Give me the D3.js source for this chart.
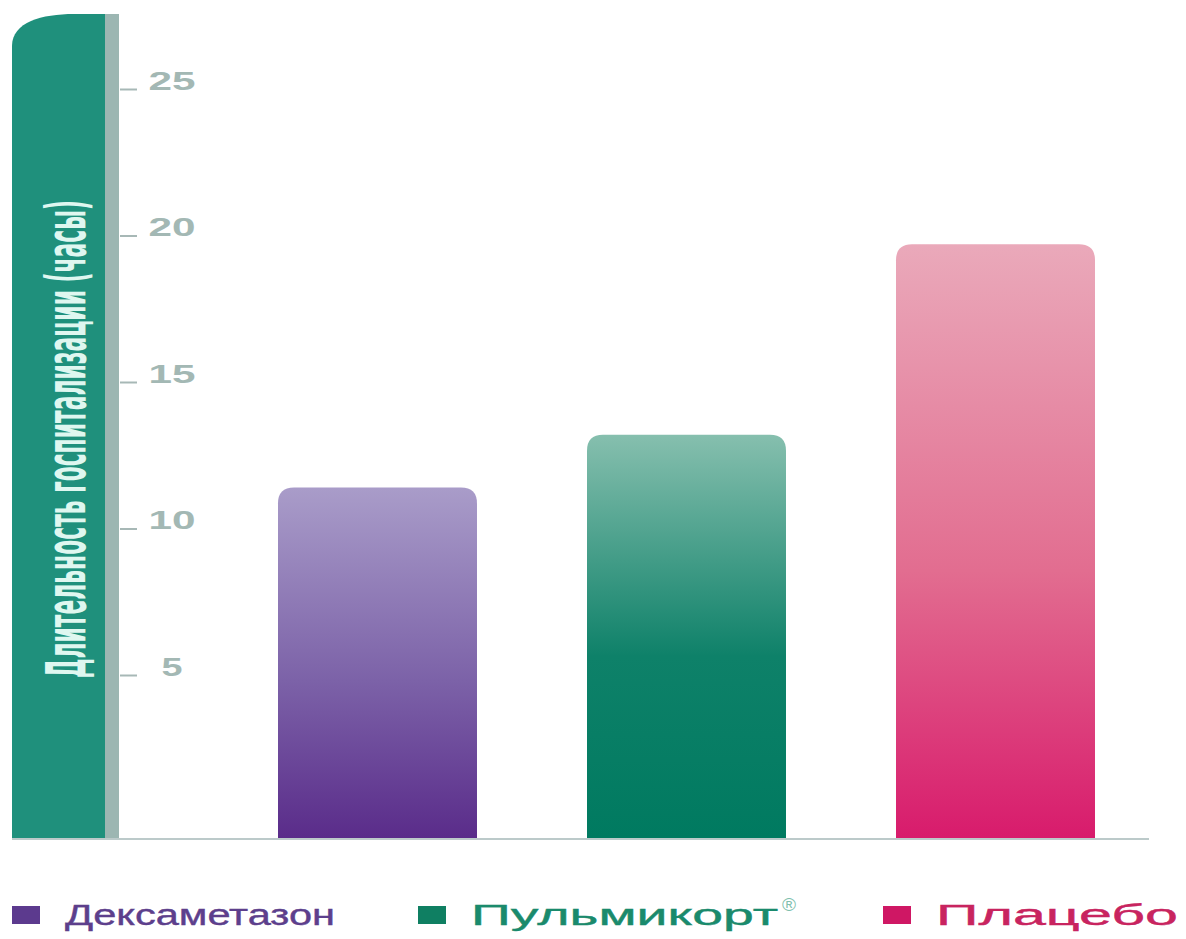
<!DOCTYPE html>
<html>
<head>
<meta charset="utf-8">
<script src="https://cdn.jsdelivr.net/npm/d3@7"></script>
<style>
  html, body { margin: 0; padding: 0; background: #ffffff; }
  svg { display: block; }
</style>
</head>
<body>
<svg id="chart" width="1186" height="939"></svg>
<script>
// ---- data ----
const categories = ["Дексаметазон", "Пульмикорт", "Плацебо"];
const values = [11.4, 13.2, 19.7];
const tickValues = [5, 10, 15, 20, 25];
const legendLabels = ["Дексаметазон", "Пульмикорт", "Плацебо"];
const legendSup = ["", "®", ""];
const yTitle = "Длительность госпитализации (часы)";

// ---- styles ----
const topColors = ["#a99cc9", "#86bfae", "#eaa9ba"];
const midColors = ["#7c62a8", "#0e8169", "#e26d90"];
const midOffsets = ["55%", "55%", "55%"];
const bottomColors = ["#5a2c8a", "#007a60", "#d81b6c"];
const legendSquare = ["#5c3a8e", "#0f7f62", "#cf1764"];
const legendText = ["#5d3f8c", "#1a8a6c", "#c8245f"];
const legendLen = [270, 307, 242];

const svg = d3.select("#chart");

const baseY = 838;
const y = d3.scaleLinear().domain([5, 25]).range([675, 89]);
const x = d3.scaleBand().domain(categories).range([223, 1150]).paddingInner(0.356).paddingOuter(0.178);

// gradients
const defs = svg.append("defs");
categories.forEach((c, i) => {
  const g = defs.append("linearGradient")
    .attr("id", "grad" + i).attr("x1", 0).attr("y1", 0).attr("x2", 0).attr("y2", 1);
  g.append("stop").attr("offset", "0%").attr("stop-color", topColors[i]);
  g.append("stop").attr("offset", midOffsets[i]).attr("stop-color", midColors[i]);
  g.append("stop").attr("offset", "100%").attr("stop-color", bottomColors[i]);
});

// left band
const bandL = 12, bandR = 105, stripR = 119, bandTop = 14;
svg.append("path")
  .attr("d", `M${bandL},${baseY} L${bandL},${bandTop + 32} C${bandL},${bandTop + 8} ${bandL + 30},${bandTop} ${bandL + 62},${bandTop} L${bandR},${bandTop} L${bandR},${baseY} Z`)
  .attr("fill", "#1f907c");
svg.append("rect")
  .attr("x", bandR).attr("y", bandTop).attr("width", stripR - bandR).attr("height", baseY - bandTop)
  .attr("fill", "#9cb6b2");

// y title (compressed along its length to fit)
const title = svg.append("text")
  .attr("text-anchor", "middle")
  .attr("font-family", "'Liberation Sans Narrow', 'DejaVu Sans Condensed', 'Liberation Sans', sans-serif")
  .attr("font-weight", "bold")
  .attr("font-size", 56)
  .attr("fill", "#dff7f0")
  .text(yTitle);
const natural = title.node().getComputedTextLength() || 478;
title.attr("transform", `translate(85,439) rotate(-90) scale(${478 / natural},1)`);

// y axis
const axis = d3.axisRight(y).tickValues(tickValues).tickSize(17).tickFormat(d3.format("d"));
const ag = svg.append("g").attr("transform", `translate(${stripR + 1},0)`).call(axis);
ag.select(".domain").remove();
ag.selectAll(".tick line").attr("stroke", "#a7b8b6").attr("stroke-width", 2);
ag.selectAll(".tick text")
  .attr("x", 52).attr("dy", "0").attr("y", 0)
  .attr("text-anchor", "middle")
  .attr("font-family", "'Liberation Sans', Arial, sans-serif")
  .attr("font-weight", "bold")
  .attr("font-size", 25)
  .attr("fill", "#a3b8b4")
  .attr("textLength", d => String(d).length === 1 ? 21 : 47)
  .attr("lengthAdjust", "spacingAndGlyphs");

// bars with rounded top corners
const r = 16;
svg.append("g").selectAll("path").data(categories).join("path")
  .attr("d", (c, i) => {
    const x0 = x(c), x1 = x(c) + x.bandwidth(), t = y(values[i]);
    return `M${x0},${baseY} L${x0},${t + r} Q${x0},${t} ${x0 + r},${t} L${x1 - r},${t} Q${x1},${t} ${x1},${t + r} L${x1},${baseY} Z`;
  })
  .attr("fill", (c, i) => `url(#grad${i})`);

// baseline
svg.append("line")
  .attr("x1", bandL).attr("x2", 1149).attr("y1", baseY + 1).attr("y2", baseY + 1)
  .attr("stroke", "#bccaca").attr("stroke-width", 2);

// legend
const legendX = [12, 418, 883];
const lg = svg.append("g");
legendLabels.forEach((lab, i) => {
  lg.append("rect")
    .attr("x", legendX[i]).attr("y", 906).attr("width", 28).attr("height", 18)
    .attr("fill", legendSquare[i]);
  const t = lg.append("text")
    .attr("x", legendX[i] + 53).attr("y", 925)
    .attr("font-family", "'Liberation Sans', Arial, sans-serif")
    .attr("font-size", 29)
    .attr("fill", legendText[i])
    .attr("stroke", legendText[i])
    .attr("stroke-width", 0.4);
  t.append("tspan").attr("textLength", legendLen[i]).attr("lengthAdjust", "spacingAndGlyphs").text(lab);
  if (legendSup[i]) {
    t.append("tspan").attr("dy", -14).attr("dx", 4).attr("font-size", 19).attr("stroke", "none").attr("fill", "#7fbfae").text(legendSup[i]);
  }
});
</script>
</body>
</html>
